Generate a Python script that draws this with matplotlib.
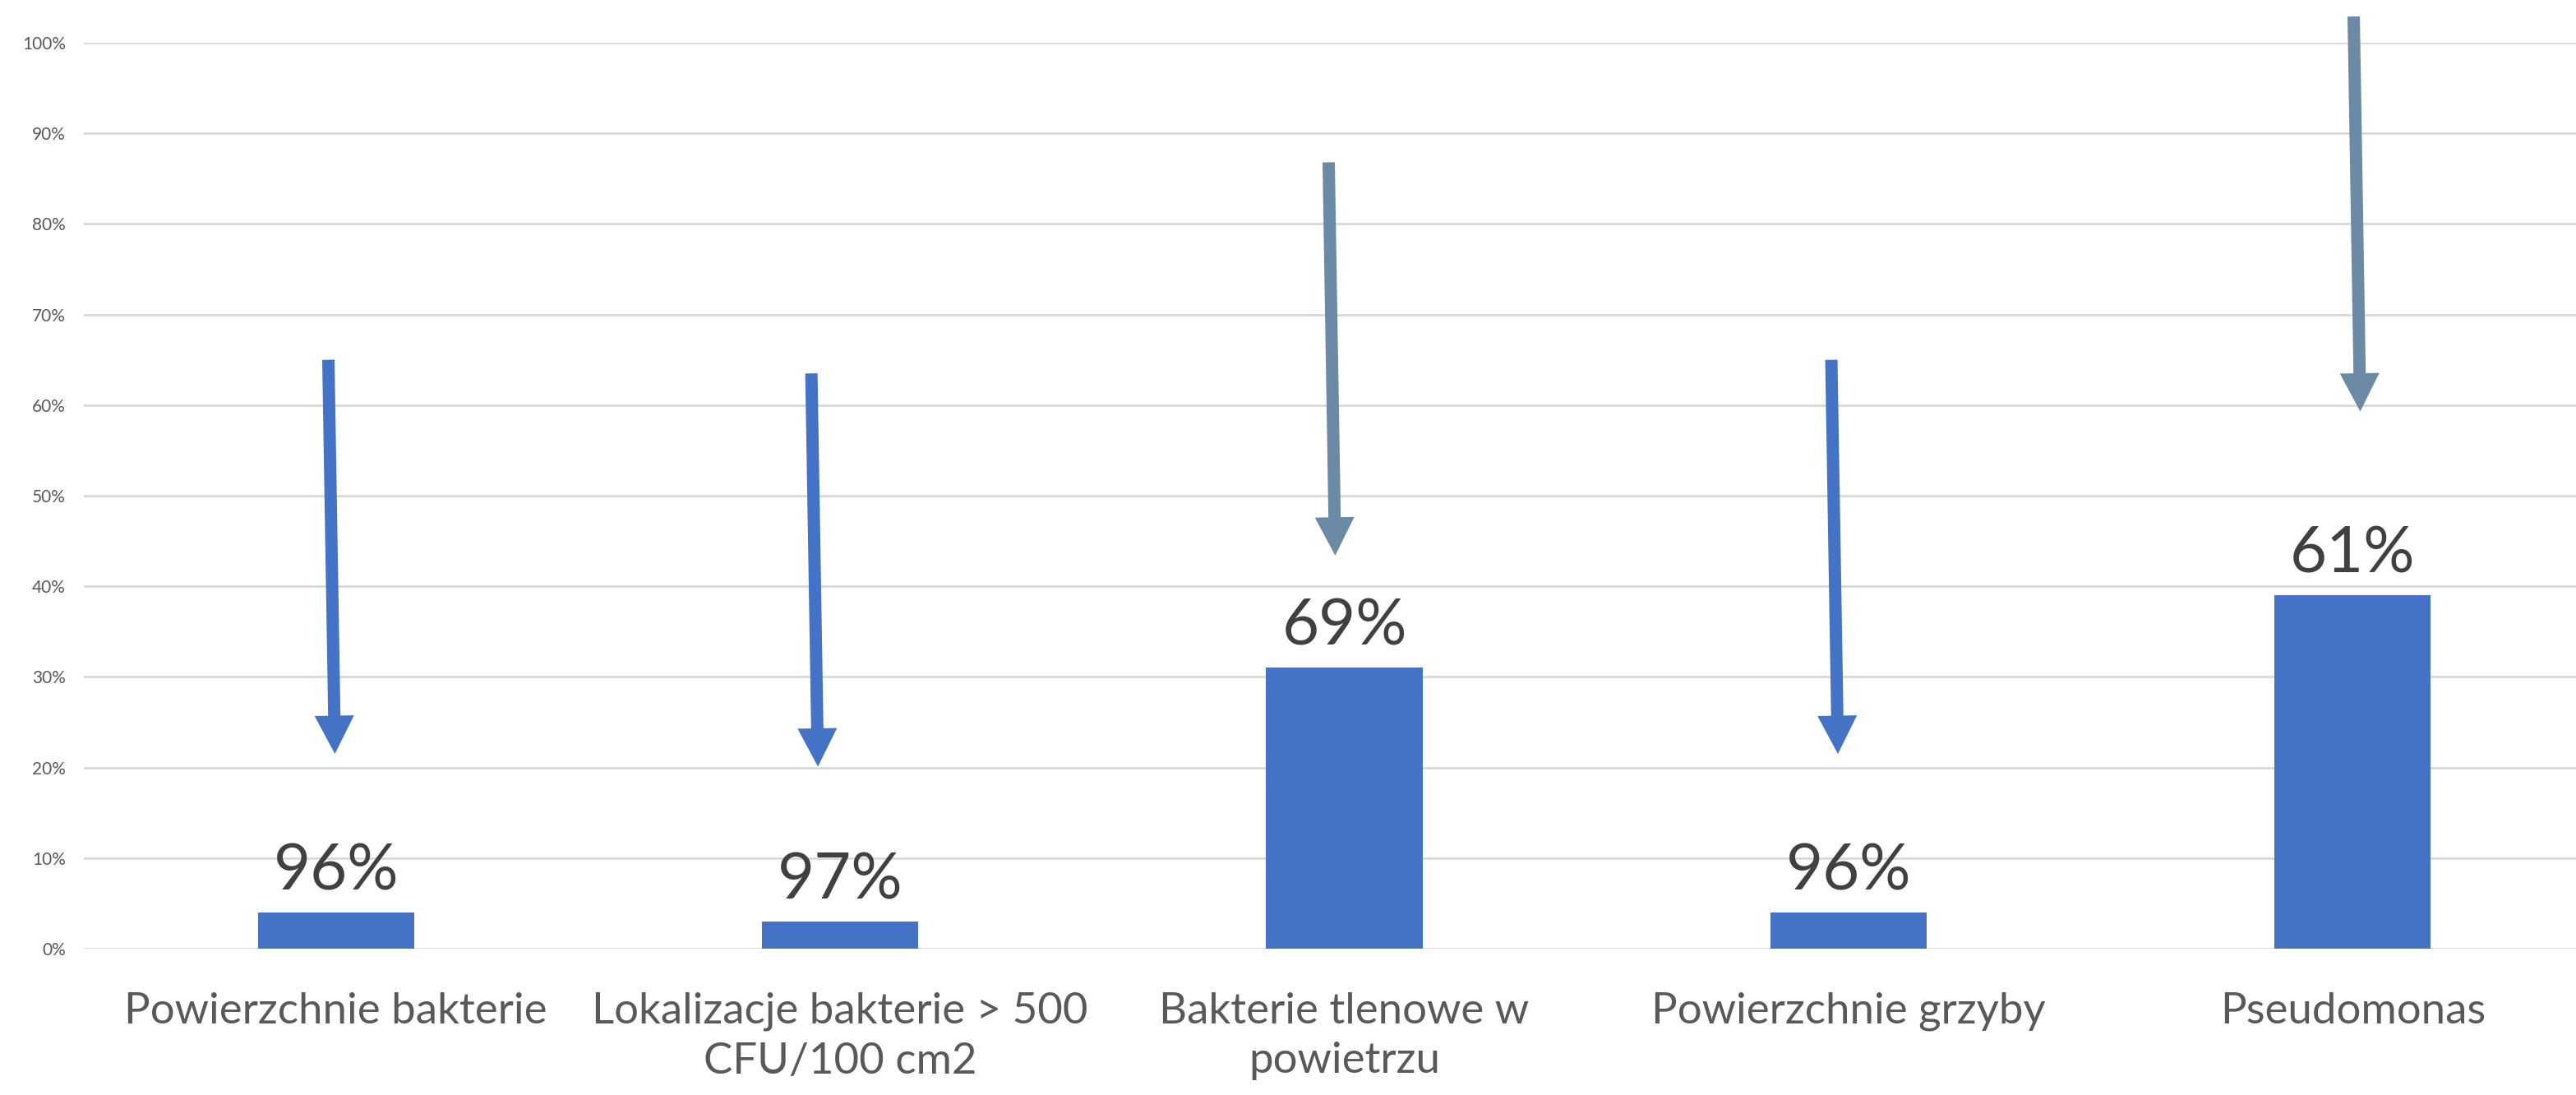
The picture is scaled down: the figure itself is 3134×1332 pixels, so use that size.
import matplotlib
matplotlib.use("Agg")
import matplotlib.pyplot as plt
from matplotlib.ticker import PercentFormatter

# data: share remaining (%) and reduction label per category
categories = [
    "Powierzchnie bakterie",
    "Lokalizacje bakterie > 500\nCFU/100 cm2",
    "Bakterie tlenowe w\npowietrzu",
    "Powierzchnie grzyby",
    "Pseudomonas",
]
remaining = [4, 3, 31, 4, 39]
reduction_labels = ["96%", "97%", "69%", "96%", "61%"]

# hand-drawn arrows (data coords): tail x/y, tip x/y
arrow_tail_x = [-0.015, 0.943, 1.969, 2.966, 4.002]
arrow_tail_y = [65.0, 63.5, 86.8, 65.0, 102.9]
arrow_tip_x = [-0.002, 0.956, 1.982, 2.979, 4.015]
arrow_tip_y = [21.5, 20.1, 43.4, 21.5, 59.3]
arrow_colors = ["#4472C4", "#4472C4", "#6B8AA5", "#4472C4", "#6B8AA5"]

BLUE = "#4472C4"
plt.rcParams["font.family"] = ["Lato", "DejaVu Sans"]

fig = plt.figure(figsize=(31.34, 13.32), dpi=100)
ax = fig.add_axes([102 / 3134, 178 / 1332, 3067 / 3134, 1102 / 1332])

x = list(range(len(categories)))
ax.bar(x, remaining, width=0.31, color=BLUE, zorder=3)

for xi, v, lab in zip(x, remaining, reduction_labels):
    ax.annotate(lab, xy=(xi, v), xytext=(0, 20), textcoords="offset points",
                ha="center", va="baseline", fontsize=56, color="#404040")

for tx, ty, hx, hy, c in zip(arrow_tail_x, arrow_tail_y, arrow_tip_x, arrow_tip_y, arrow_colors):
    ax.annotate("", xy=(hx, hy), xytext=(tx, ty), annotation_clip=False,
                arrowprops=dict(arrowstyle="simple,head_width=3.2,head_length=3.1,tail_width=1",
                                mutation_scale=10.8, color=c, lw=0,
                                shrinkA=0, shrinkB=0), zorder=4)

ax.set_xlim(-0.5, 4.5)
ax.set_ylim(0, 100)
ax.set_yticks(range(0, 101, 10))
ax.yaxis.set_major_formatter(PercentFormatter(decimals=0))
ax.set_xticks(x)
ax.set_xticklabels(categories, fontsize=38, color="#595959", linespacing=1.35)
ax.tick_params(axis="x", length=0, pad=38)
ax.tick_params(axis="y", length=0, pad=16, labelsize=15, labelcolor="#595959")
ax.grid(axis="y", color="#D9D9D9", linewidth=2, zorder=0)
for s in ax.spines.values():
    s.set_visible(False)

plt.savefig("out.png", dpi=100)
plt.close()
